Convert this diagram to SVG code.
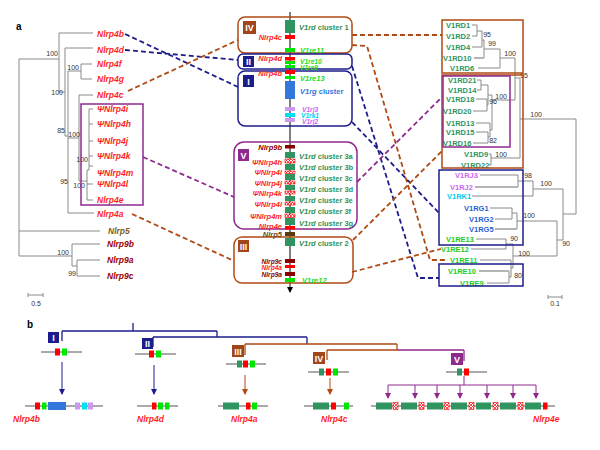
<svg xmlns="http://www.w3.org/2000/svg" width="600" height="450" viewBox="0 0 600 450">
<style>
text{font-family:"Liberation Sans",Arial,sans-serif}
.lt{font-size:8.5px;font-weight:bold;font-style:italic;fill:#ff1f1f}
.num{font-size:7px;fill:#333}
.cl{font-size:7.5px;font-weight:bold}
.sm{font-size:6.6px}
.it{font-style:italic}
.rl{font-size:7.5px;font-weight:bold}
.br{fill:none;stroke:#8a8a8a;stroke-width:1}
.brt{fill:none;stroke:#b5b5b5;stroke-width:2}
.dash{fill:none;stroke-width:1.8;stroke-dasharray:5 3}
.nv{stroke:#1c1c8c}.bw{stroke:#b04a14}.pu{stroke:#8e2a8e}
.box{fill:none;stroke-width:1.5}
.badge{font-size:9px;font-weight:bold;fill:#fff;text-anchor:middle}
.red{fill:#ff0000}.dred{fill:#8b0000}.sg{fill:#2f9460}.gr{fill:#00e600}.bl{fill:#3377dd}.lv{fill:#cc99ee}.cy{fill:#00e0f0}.nb{fill:#5a3a10}
.hat{fill:url(#hatch);stroke:#ff0000;stroke-width:0.6}
.bb{stroke:#555;stroke-width:1;fill:none}
</style>
<defs>
<pattern id="hatch" patternUnits="userSpaceOnUse" width="3" height="3">
<rect width="3" height="3" fill="#fff"/>
<path d="M0,0 L3,3 M3,0 L0,3" stroke="#ff0000" stroke-width="0.7"/>
</pattern>
<marker id="ahk" markerWidth="6" markerHeight="6" refX="5" refY="3" orient="auto" markerUnits="userSpaceOnUse"><path d="M0,0 L6,3 L0,6 z" fill="#000"/></marker>
<marker id="ahn" markerWidth="6" markerHeight="6" refX="5" refY="3" orient="auto" markerUnits="userSpaceOnUse"><path d="M0,0 L6,3 L0,6 z" fill="#1c1c8c"/></marker>
<marker id="ahb" markerWidth="6" markerHeight="6" refX="5" refY="3" orient="auto" markerUnits="userSpaceOnUse"><path d="M0,0 L6,3 L0,6 z" fill="#b04a14"/></marker>
<marker id="ahp" markerWidth="6" markerHeight="6" refX="5" refY="3" orient="auto" markerUnits="userSpaceOnUse"><path d="M0,0 L6,3 L0,6 z" fill="#8e2a8e"/></marker>
</defs>
<rect width="600" height="450" fill="#fff"/>
<text x="16" y="30" style="font-size:10px;font-weight:bold">a</text>
<text x="27" y="328" style="font-size:10px;font-weight:bold">b</text>

<!-- Left tree -->
<g id="left-tree">
<path class="br" d="M19 59V256M19 59H59M59 33V92M59 33H93M59 92H65M65 48V136M65 48H93M65 136H68M68 71V213M68 71H81M81 64V79M81 64H92M81 79H92M68 213H94M68 138H79M79 95V181M79 95H93M79 181H87M87 170V200M87 170H89M89 109V170M89 109H93M89 124H93M89 141H93M89 156H93M89 166H93M87 184H93M87 200H93M19 231H100M19 256H72M72 244V266M72 244H100M72 266H77M77 260V276M77 260H100M77 276H100"/>
<text class="num" x="58" y="56" text-anchor="end">100</text>
<text class="num" x="63" y="95" text-anchor="end">100</text>
<text class="num" x="79" y="70" text-anchor="end">100</text>
<text class="num" x="65" y="133" text-anchor="end">85</text>
<text class="num" x="80" y="137" text-anchor="end">100</text>
<text class="num" x="88" y="162" text-anchor="end">100</text>
<text class="num" x="68" y="184" text-anchor="end">95</text>
<text class="num" x="85" y="188" text-anchor="end">100</text>
<text class="num" x="69" y="255" text-anchor="end">100</text>
<text class="num" x="76" y="276" text-anchor="end">99</text>
<path class="br" d="M28 295H43M28 293V297M43 293V297"/>
<text class="num" x="36" y="306" text-anchor="middle">0.5</text>
</g>
<g id="left-labels">
<text class="lt" x="97" y="37">Nlrp4b</text>
<text class="lt" x="97" y="53">Nlrp4d</text>
<text class="lt" x="97" y="67">Nlrp4f</text>
<text class="lt" x="97" y="82">Nlrp4g</text>
<text class="lt" x="97" y="98">Nlrp4c</text>
<text class="lt" x="97" y="112">ΨNlrp4i</text>
<text class="lt" x="97" y="127">ΨNlrp4h</text>
<text class="lt" x="97" y="144">ΨNlrp4j</text>
<text class="lt" x="97" y="159">ΨNlrp4k</text>
<text class="lt" x="97" y="176">ΨNlrp4m</text>
<text class="lt" x="97" y="187">ΨNlrp4l</text>
<text class="lt" x="97" y="203">Nlrp4e</text>
<text class="lt" x="97" y="217">Nlrp4a</text>
<text class="lt" x="108" y="234" style="fill:#7d5c1e">Nlrp5</text>
<text class="lt" x="107" y="247" style="fill:#9b0000">Nlrp9b</text>
<text class="lt" x="107" y="263" style="fill:#9b0000">Nlrp9a</text>
<text class="lt" x="107" y="279" style="fill:#9b0000">Nlrp9c</text>
<rect class="box pu" x="81" y="104" width="62" height="101"/>
</g>

<!-- Center chromosome -->
<g id="chromosome">
<line x1="290" y1="12" x2="290" y2="292" stroke="#000" stroke-width="1" marker-end="url(#ahk)"/>
</g>
<g id="box-IV">
<rect class="box bw" x="238" y="17" width="114" height="36" rx="7"/>
<rect x="243" y="21" width="13" height="13" fill="#a0461a"/><text class="badge" x="249.5" y="31">IV</text>
</g>
<g id="box-II">
<rect class="box nv" x="238" y="54" width="114" height="15" rx="5"/>
<rect x="243" y="56" width="11" height="11" fill="#1c1c8c"/><text class="badge" x="248.5" y="65">II</text>
</g>
<g id="box-I">
<rect class="box nv" x="238" y="71" width="114" height="55" rx="7"/>
<rect x="243" y="75" width="11" height="12" fill="#1c1c8c"/><text class="badge" x="248.5" y="84.5">I</text>
</g>
<g id="box-V">
<rect class="box pu" x="234" y="142" width="123" height="87" rx="10"/>
<rect x="238" y="149" width="11" height="12" fill="#8e2a8e"/><text class="badge" x="243.5" y="158.5">V</text>
</g>
<g id="box-III">
<rect class="box bw" x="234" y="237" width="119" height="46" rx="8"/>
<rect x="238" y="240" width="11" height="12" fill="#a0461a"/><text class="badge" x="243.5" y="249.5">III</text>
</g>
<g id="genes">
<rect class="sg" x="285" y="20" width="10" height="13"/>
<rect class="red" x="285" y="35" width="10" height="4"/>
<rect class="gr" x="285" y="48" width="10" height="4"/>
<rect class="red" x="285" y="57" width="10" height="3.5"/>
<rect class="gr" x="285" y="61" width="10" height="3"/>
<rect class="gr" x="285" y="65" width="10" height="3"/>
<rect class="red" x="285" y="70" width="10" height="4"/>
<rect class="gr" x="285" y="76" width="10" height="3"/>
<rect class="bl" x="285" y="81" width="10" height="18"/>
<rect class="lv" x="285" y="107" width="10" height="4"/>
<rect class="cy" x="285" y="113" width="10" height="4"/>
<rect class="lv" x="285" y="118" width="10" height="4"/>
<rect class="dred" x="285" y="145" width="10" height="3.5"/>
<rect class="sg" x="285" y="152" width="10" height="6"/>
<rect class="hat" x="285" y="159" width="10" height="4"/>
<rect class="sg" x="285" y="164" width="10" height="6"/>
<rect class="hat" x="285" y="171" width="10" height="2.5"/>
<rect class="sg" x="285" y="174" width="10" height="6"/>
<rect class="hat" x="285" y="181" width="10" height="3"/>
<rect class="sg" x="285" y="185" width="10" height="5"/>
<rect class="hat" x="285" y="191" width="10" height="3"/>
<rect class="sg" x="285" y="196" width="10" height="5"/>
<rect class="hat" x="285" y="202" width="10" height="3"/>
<rect class="sg" x="285" y="207" width="10" height="6"/>
<rect class="hat" x="285" y="214" width="10" height="3.5"/>
<rect class="sg" x="285" y="218" width="10" height="7"/>
<rect class="red" x="285" y="226" width="10" height="3.5"/>
<rect class="nb" x="285" y="232" width="10" height="4"/>
<rect class="sg" x="285" y="238" width="10" height="8"/>
<rect class="dred" x="285" y="259" width="10" height="4"/>
<rect class="red" x="285" y="265" width="10" height="3"/>
<rect class="dred" x="285" y="272" width="10" height="4"/>
<rect class="gr" x="285" y="278" width="10" height="4"/>
</g>
<g id="gene-labels">
<g class="cl it" text-anchor="end" style="fill:#ff1f1f">
<text x="282" y="40">Nlrp4c</text>
<text x="282" y="61">Nlrp4d</text>
<text x="282" y="76">Nlrp4b</text>
<text x="282" y="150" style="fill:#8b0000">Nlrp9b</text>
<text x="282" y="165">ΨNlrp4h</text>
<text x="282" y="175">ΨNlrp4i</text>
<text x="282" y="186">ΨNlrp4j</text>
<text x="282" y="196">ΨNlrp4k</text>
<text x="282" y="207">ΨNlrp4l</text>
<text x="282" y="219">ΨNlrp4m</text>
<text x="282" y="229">Nlrp4e</text>
<text x="282" y="237" style="fill:#6b4a14">Nlrp5</text>
<text class="sm" x="282" y="263.5" style="fill:#8b0000">Nlrp9c</text>
<text class="sm" x="282" y="270">Nlrp4a</text>
<text class="sm" x="282" y="277" style="fill:#8b0000">Nlrp9a</text>
</g>
<g class="cl" style="fill:#2f9460">
<text x="299" y="30"><tspan class="it">V1rd</tspan> cluster 1</text>
<text x="299" y="159"><tspan class="it">V1rd</tspan> cluster 3a</text>
<text x="299" y="170"><tspan class="it">V1rd</tspan> cluster 3b</text>
<text x="299" y="181"><tspan class="it">V1rd</tspan> cluster 3c</text>
<text x="299" y="192"><tspan class="it">V1rd</tspan> cluster 3d</text>
<text x="299" y="203"><tspan class="it">V1rd</tspan> cluster 3e</text>
<text x="299" y="214"><tspan class="it">V1rd</tspan> cluster 3f</text>
<text x="299" y="226"><tspan class="it">V1rd</tspan> cluster 3g</text>
<text x="299" y="246"><tspan class="it">V1rd</tspan> cluster 2</text>
</g>
<g class="cl it" style="fill:#22dd22">
<text x="300" y="53">V1re11</text>
<text class="sm" x="300" y="63.5">V1re10</text>
<text class="sm" x="300" y="69.5">V1re9</text>
<text x="300" y="81">V1re13</text>
<text x="302" y="283">V1re12</text>
</g>
<text class="cl" x="300" y="94" style="fill:#3377dd"><tspan class="it">V1rg</tspan> cluster</text>
<text class="cl it sm" x="302" y="111.5" style="fill:#cc66ee">V1rj3</text>
<text class="cl it sm" x="301" y="117.5" style="fill:#00d0f0">V1rk1</text>
<text class="cl it sm" x="302" y="123.5" style="fill:#cc66ee">V1rj2</text>
</g>

<!-- Right tree -->
<g id="right-tree">
<path class="br" d="M472 25H477M472 36H477M477 25V36M477 31H482M472 47H482M482 31V47M482 40H484M484 40V58M484 49H500M478 68H500M500 49V68M500 58H515M477 80H481M477 90H481M481 80V90M481 85H488M476 99H487M473 111H487M487 99V111M487 105H488M488 85V105M488 95H492M476 123H490M476 132H488M473 143H488M488 132V143M488 137H490M490 123V137M490 130H492M492 95V130M492 100H515M515 58V100M515 78H520M520 78V158M489 154H491M489 165H491M491 154V165M491 158H520M520 119H576M576 119V214M563 214H576M480 175H518M518 175V187M518 181H533M472 196H533M533 181V196M533 189H563M563 189V240M490 208H512M495 219H512M512 208V219M512 213H517M517 213V229M517 221H557M476 239H506M471 249H506M506 239V249M506 244H513M480 260H511M487 283H509M509 271V283M509 277H511M511 260V277M511 268H513M513 244V268M513 256H557M557 221V256M557 240H563"/>
<path class="brt" d="M474 58H484M475 187H518M495 229H517M479 271H509"/>
<g class="num" text-anchor="end">
<text x="491" y="37">95</text>
<text x="496" y="46">99</text>
<text x="516" y="56">100</text>
<text x="528" y="78">55</text>
<text x="507" y="99">100</text>
<text x="497" y="104">96</text>
<text x="497" y="143">82</text>
<text x="507" y="157">100</text>
<text x="542" y="117">100</text>
<text x="532" y="178">98</text>
<text x="552" y="186">100</text>
<text x="535" y="218">100</text>
<text x="570" y="246">90</text>
<text x="518" y="241">90</text>
<text x="530" y="256">100</text>
<text x="522" y="278">80</text>
</g>
<path class="br" d="M548 297H562M548 295V299M562 295V299"/>
<text class="num" x="555" y="306" text-anchor="middle">0.1</text>
</g>
<g id="right-labels">
<g class="rl" style="fill:#2f9460">
<text x="446" y="28">V1RD1</text>
<text x="446" y="39">V1RD2</text>
<text x="446" y="50">V1RD4</text>
<text x="443" y="61">V1RD10</text>
<text x="450" y="71">V1RD6</text>
<text x="448" y="83">V1RD21</text>
<text x="448" y="93">V1RD14</text>
<text x="446" y="102">V1RD18</text>
<text x="443" y="114">V1RD20</text>
<text x="446" y="126">V1RD13</text>
<text x="446" y="135">V1RD15</text>
<text x="443" y="146">V1RD16</text>
<text x="464" y="157">V1RD9</text>
<text x="461" y="168">V1RD22</text>
</g>
<text class="rl" x="455" y="178" style="fill:#cc66ee">V1RJ3</text>
<text class="rl" x="450" y="190" style="fill:#cc66ee">V1RJ2</text>
<text class="rl" x="447" y="199" style="fill:#00ccf0">V1RK1</text>
<g class="rl" style="fill:#1e5fcf">
<text x="464" y="211">V1RG1</text>
<text x="469" y="222">V1RG2</text>
<text x="469" y="232">V1RG5</text>
</g>
<g class="rl" style="fill:#22cc22">
<text x="446" y="242">V1RE13</text>
<text x="441" y="252">V1RE12</text>
<text x="450" y="263">V1RE11</text>
<text x="448" y="274">V1RE10</text>
<text x="460" y="286">V1RE9</text>
</g>
<rect class="box bw" x="442" y="20" width="81" height="53"/>
<rect class="box bw" x="442" y="75" width="81" height="93"/>
<rect class="box pu" x="443" y="76" width="67" height="71"/>
<rect class="box nv" x="439" y="170" width="84" height="75"/>
<rect class="box nv" x="439" y="264" width="84" height="22"/>
</g>

<!-- Connectors -->
<g id="connectors">
<path class="dash nv" d="M125 34L238 87"/>
<path class="dash nv" d="M125 50L238 60"/>
<path class="dash bw" d="M128 91L238 40"/>
<path class="dash pu" d="M143 157L234 197"/>
<path class="dash bw" d="M132 214L234 261"/>
<path class="dash bw" d="M352 35H442"/>
<path class="dash bw" d="M352 45L367 46L430 260L448 260"/>
<path class="dash nv" d="M352 66L418 278L439 278"/>
<path class="dash nv" d="M352 122L439 213"/>
<path class="dash pu" d="M357 182L442 97"/>
<path class="dash bw" d="M353 240L443 150"/>
<path class="dash bw" d="M352 272L441 249"/>
</g>

<!-- Panel b -->
<g id="b-tree">
<path fill="none" stroke="#1c1c8c" stroke-width="1.3" d="M133 323V331M62 331H217M62 331V341M217 331V337M153 337H307M153 337V347M307 337V344"/>
<path fill="none" stroke="#b04a14" stroke-width="1.3" d="M245 344H397M245 344V355M397 344V350M327 350H397M327 350V360"/>
<path fill="none" stroke="#8e2a8e" stroke-width="1.3" d="M397 350H464M464 350V361"/>
</g>
<g id="b-I">
<rect x="48" y="332" width="11" height="11" fill="#1c1c8c"/><text class="badge" x="53.5" y="341">I</text>
<path class="bb" d="M41 352H82"/><rect class="red" x="55" y="348.5" width="5" height="7"/><rect class="gr" x="62" y="348.5" width="5" height="7"/>
<line x1="62" y1="362" x2="62" y2="394" stroke="#1c1c8c" marker-end="url(#ahn)"/>
<path class="bb" d="M25 406H103"/>
<rect class="red" x="35" y="402.5" width="5" height="7"/><rect class="gr" x="42" y="402.5" width="4.5" height="7"/><rect class="bl" x="48" y="402" width="18" height="8"/><rect class="lv" x="75" y="402.5" width="5" height="7"/><rect class="cy" x="82" y="402.5" width="5" height="7"/><rect class="lv" x="88" y="402.5" width="5" height="7"/>
<text class="lt" x="13" y="422">Nlrp4b</text>
</g>
<g id="b-II">
<rect x="142" y="338" width="11" height="11" fill="#1c1c8c"/><text class="badge" x="147.5" y="347">II</text>
<path class="bb" d="M135 354H176"/><rect class="red" x="149" y="350.5" width="5" height="7"/><rect class="gr" x="156" y="350.5" width="5" height="7"/>
<line x1="154" y1="365" x2="154" y2="394" stroke="#1c1c8c" marker-end="url(#ahn)"/>
<path class="bb" d="M137 406H178"/>
<rect class="red" x="152" y="402.5" width="4.5" height="7"/><rect class="gr" x="158" y="402.5" width="5" height="7"/><rect class="gr" x="165" y="402.5" width="4.5" height="7"/>
<text class="lt" x="137" y="422">Nlrp4d</text>
</g>
<g id="b-III">
<rect x="232" y="345" width="12" height="12" fill="#a0461a"/><text class="badge" x="238" y="354.5">III</text>
<path class="bb" d="M226 364H266"/><rect class="sg" x="237" y="360.5" width="5" height="7"/><rect class="red" x="243" y="360.5" width="5" height="7"/><rect class="gr" x="250" y="360.5" width="5" height="7"/>
<line x1="245" y1="375" x2="245" y2="394" stroke="#b04a14" marker-end="url(#ahb)"/>
<path class="bb" d="M218 406H268"/>
<rect class="sg" x="223" y="402.5" width="16" height="7"/><rect class="red" x="246" y="402.5" width="4.5" height="7"/><rect class="gr" x="252" y="402.5" width="5" height="7"/>
<text class="lt" x="231" y="422">Nlrp4a</text>
</g>
<g id="b-IV">
<rect x="313" y="352" width="12" height="12" fill="#a0461a"/><text class="badge" x="319" y="361.5">IV</text>
<path class="bb" d="M308 372H349"/><rect class="sg" x="319" y="368.5" width="5" height="7"/><rect class="red" x="326" y="368.5" width="5" height="7"/><rect class="gr" x="333" y="368.5" width="5" height="7"/>
<line x1="330" y1="378" x2="330" y2="394" stroke="#b04a14" marker-end="url(#ahb)"/>
<path class="bb" d="M304 406H353"/>
<rect class="sg" x="313" y="402.5" width="16" height="7"/><rect class="red" x="331" y="402.5" width="5" height="7"/><rect class="gr" x="344" y="402.5" width="5" height="7"/>
<text class="lt" x="321" y="422">Nlrp4c</text>
</g>
<g id="b-V">
<rect x="451" y="353" width="12" height="12" fill="#8e2a8e"/><text class="badge" x="457" y="362.5">V</text>
<path class="bb" d="M446 372H487"/><rect class="sg" x="457" y="368.5" width="5" height="7"/><rect class="red" x="464" y="368.5" width="5" height="7"/>
<path fill="none" stroke="#8e2a8e" stroke-width="1" d="M464 376V385M388 385H536"/>
<g stroke="#8e2a8e" stroke-width="1">
<line x1="388" y1="385" x2="388" y2="398" marker-end="url(#ahp)"/>
<line x1="415" y1="385" x2="415" y2="398" marker-end="url(#ahp)"/>
<line x1="437" y1="385" x2="437" y2="398" marker-end="url(#ahp)"/>
<line x1="460" y1="385" x2="460" y2="398" marker-end="url(#ahp)"/>
<line x1="487" y1="385" x2="487" y2="398" marker-end="url(#ahp)"/>
<line x1="513" y1="385" x2="513" y2="398" marker-end="url(#ahp)"/>
<line x1="536" y1="385" x2="536" y2="398" marker-end="url(#ahp)"/>
</g>
<path class="bb" d="M371 406H555"/>
<rect class="sg" x="376" y="402.5" width="16" height="7"/><rect class="hat" x="393" y="402.5" width="5" height="7"/>
<rect class="sg" x="401" y="402.5" width="16" height="7"/><rect class="hat" x="419" y="402.5" width="5" height="7"/>
<rect class="sg" x="427" y="402.5" width="16" height="7"/><rect class="hat" x="444" y="402.5" width="5" height="7"/>
<rect class="sg" x="451" y="402.5" width="16" height="7"/><rect class="hat" x="469" y="402.5" width="5" height="7"/>
<rect class="sg" x="476" y="402.5" width="15" height="7"/><rect class="hat" x="493" y="402.5" width="5" height="7"/>
<rect class="sg" x="500" y="402.5" width="16" height="7"/><rect class="hat" x="518" y="402.5" width="5" height="7"/>
<rect class="sg" x="525" y="402.5" width="16" height="7"/><rect class="red" x="543" y="402.5" width="4.5" height="7"/>
<text class="lt" x="533" y="422">Nlrp4e</text>
</g>
</svg>
